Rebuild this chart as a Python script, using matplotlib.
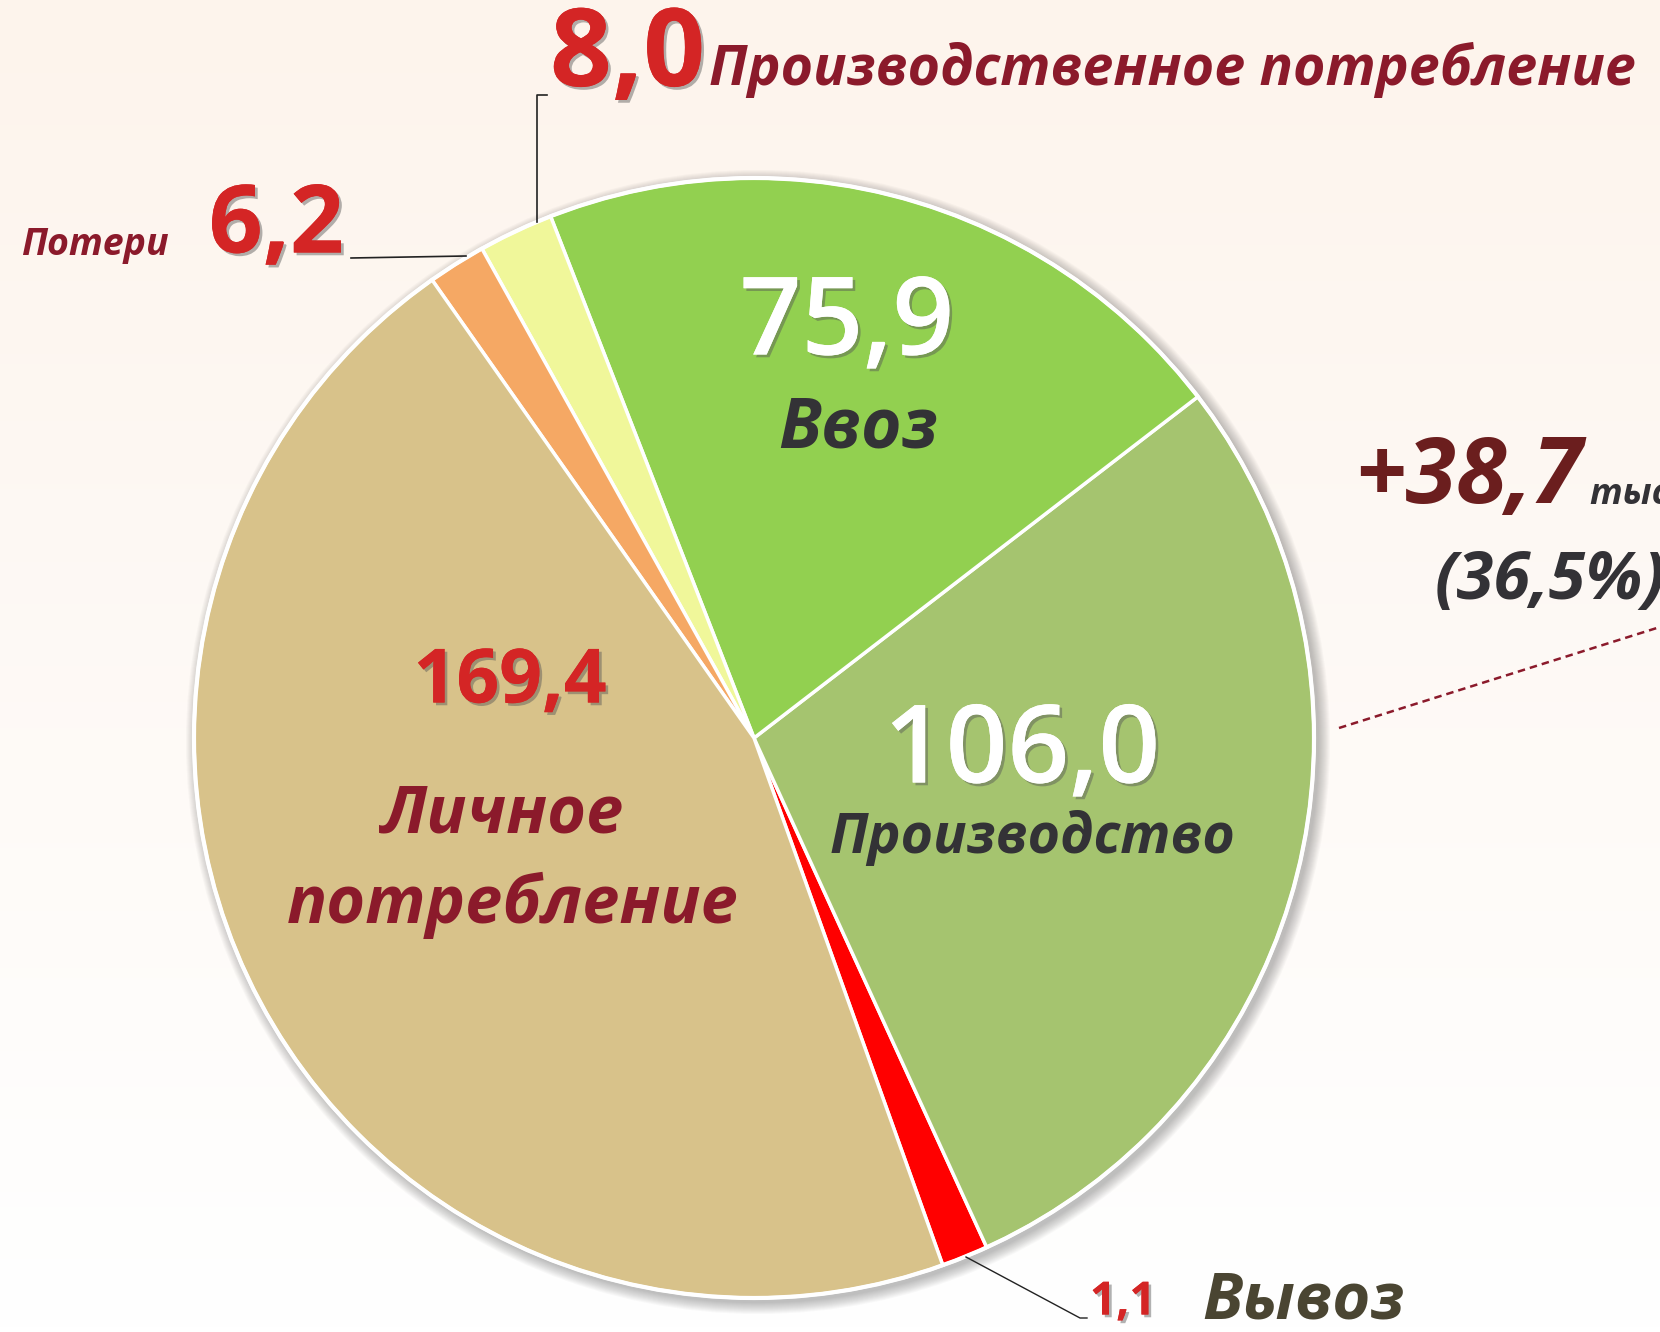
import numpy as np
import matplotlib.pyplot as plt
import matplotlib.patheffects as pe
from matplotlib.patches import Circle

# slices, counter-clockwise starting from the thin export wedge
labels = ['Вывоз', 'Производство', 'Ввоз', 'Производственное потребление', 'Потери', 'Личное потребление']
values = [1.1, 106.0, 75.9, 8.0, 6.2, 169.4]
# the export wedge is drawn larger than its value in the original picture
shares = [5.0, 106.0, 75.9, 8.0, 6.2, 169.4]
colors = ['#FF0000', '#A5C46F', '#92D050', '#F0F79A', '#F5A864', '#D8C28A']
growth = '+38,7'
growth_unit = 'тыс. тонн'
growth_pct = '(36,5%)'

FONT = ['Open Sans', 'DejaVu Sans']
H = 1332


def Y(y):
    return H - y


def fmt(v):
    return f'{v:.1f}'.replace('.', ',')


fig = plt.figure(figsize=(16.6, 13.32), dpi=100)
ax = fig.add_axes([0, 0, 1, 1])

# soft peach-to-white background
t = np.linspace(0, 1, 256)[:, None]
top = np.array([253, 244, 236]) / 255
bot = np.array([255, 255, 255]) / 255
bg = (top * (1 - t) + bot * t)[:, None, :]
ax.imshow(bg, extent=(0, 1660, 0, H), aspect='auto', origin='upper', zorder=0)

cx, cy, r = 754, Y(738), 560

# shadow around the pie
for k in range(12, 0, -1):
    ax.add_patch(Circle((cx + 4, cy - 4), r + k, color='#555555', alpha=0.035, lw=0, zorder=1))

ax.pie(shares, colors=colors, startangle=-70.3, counterclock=True,
       center=(cx, cy), radius=r,
       wedgeprops=dict(edgecolor='white', linewidth=2.5, zorder=2))
ax.add_patch(Circle((cx, cy), r, fill=False, ec='white', lw=3, zorder=3))

ax.set_xlim(0, 1660)
ax.set_ylim(0, H)
ax.axis('off')

shadow = [pe.withSimplePatchShadow(offset=(2, -2), shadow_rgbFace='#555555', alpha=0.45), pe.Normal()]
red = '#D42525'
wine = '#8B1A2B'
dark = '#333236'

# inside labels
ax.text(847, Y(326), fmt(values[2]), fontsize=78, color='white', ha='center', va='center',
        family=FONT, weight='semibold', path_effects=shadow, zorder=5)
ax.text(858, Y(429), labels[2], fontsize=50, color=dark, ha='center', va='center',
        family=FONT, weight='bold', style='italic', zorder=5)
ax.text(1022, Y(754), fmt(values[1]), fontsize=78, color='white', ha='center', va='center',
        family=FONT, weight='semibold', path_effects=shadow, zorder=5)
ax.text(1032, Y(838), labels[1], fontsize=40, color=dark, ha='center', va='center',
        family=FONT, weight='bold', style='italic', zorder=5)
ax.text(510, Y(683), fmt(values[5]), fontsize=54, color=red, ha='center', va='center',
        family=FONT, weight='bold', path_effects=shadow, zorder=5)
ax.text(503, Y(815), 'Личное', fontsize=48, color=wine, ha='center', va='center',
        family=FONT, weight='bold', style='italic', zorder=5)
ax.text(513, Y(905), 'потребление', fontsize=48, color=wine, ha='center', va='center',
        family=FONT, weight='bold', style='italic', zorder=5)

# outside labels with leader lines
ax.text(550, Y(58), fmt(values[3]), fontsize=78, color=red, ha='left', va='center',
        family=FONT, weight='bold', path_effects=shadow, zorder=5)
ax.text(709, Y(70), labels[3], fontsize=40, color=wine, ha='left', va='center',
        family=FONT, weight='bold', style='italic', zorder=5)
ax.plot([537, 537, 547], [Y(222), Y(95), Y(95)], color='#222222', lw=1.2, zorder=4)

ax.text(344, Y(228), fmt(values[4]), fontsize=68, color=red, ha='right', va='center',
        family=FONT, weight='bold', path_effects=shadow, zorder=5)
ax.text(21, Y(245), labels[4], fontsize=27, color=wine, ha='left', va='center',
        family=FONT, weight='bold', style='italic', zorder=5)
ax.plot([351, 466], [Y(258), Y(256)], color='#222222', lw=1.2, zorder=4)

ax.text(1090, Y(1302), fmt(values[0]), fontsize=33, color=red, ha='left', va='center',
        family=FONT, weight='bold', path_effects=shadow, zorder=5)
ax.text(1202, Y(1302), labels[0], fontsize=47, color='#4A4532', ha='left', va='center',
        family=FONT, weight='bold', style='italic', zorder=5)
ax.plot([966, 1080, 1087], [Y(1257), Y(1318), Y(1318)], color='#222222', lw=1.0, zorder=4)

# growth annotation on the right
ax.text(1355, Y(479), growth, fontsize=66, color='#6B1E1E', ha='left', va='center',
        family=FONT, weight='bold', style='italic', zorder=5)
ax.text(1590, Y(495), growth_unit, fontsize=26, color=dark, ha='left', va='center',
        family=FONT, weight='bold', style='italic', zorder=5)
ax.text(1435, Y(582), growth_pct, fontsize=48, color=dark, ha='left', va='center',
        family=FONT, weight='bold', style='italic', zorder=5)
ax.plot([1339, 1660], [Y(728), Y(627)], color=wine, lw=1.8, ls=(0, (3, 2)), zorder=4)

fig.savefig('out.png', dpi=100)
